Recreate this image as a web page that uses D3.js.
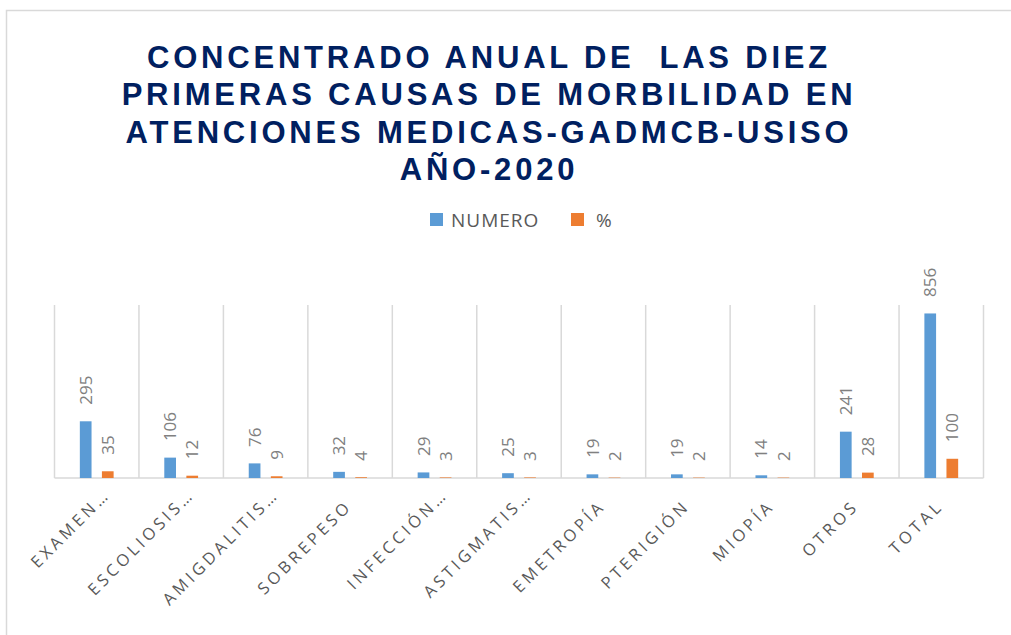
<!DOCTYPE html>
<html>
<head>
<meta charset="utf-8">
<script src="https://cdn.jsdelivr.net/npm/d3@7"></script>
<style>
  body { margin: 0; background: #fff; }
  svg { display: block; }
</style>
</head>
<body>
<div id="chart"></div>
<script>
// --- Data ---
const categories = ["EXAMEN…", "ESCOLIOSIS…", "AMIGDALITIS…", "SOBREPESO", "INFECCIÓN…",
  "ASTIGMATIS…", "EMETROPÍA", "PTERIGIÓN", "MIOPÍA", "OTROS", "TOTAL"];
const series = ["NUMERO", "%"];
const numero = [295, 106, 76, 32, 29, 25, 19, 19, 14, 241, 856];
const porcentaje = [35, 12, 9, 4, 3, 3, 2, 2, 2, 28, 100];
const titleLines = [
  "CONCENTRADO ANUAL DE  LAS DIEZ",
  "PRIMERAS CAUSAS DE MORBILIDAD EN",
  "ATENCIONES MEDICAS-GADMCB-USISO",
  "AÑO-2020"
];

// --- Configuration ---
const width = 1011, height = 635;
const colors = { "NUMERO": "#5b9bd5", "%": "#ed7d31" };
const plot = { left: 54.5, right: 983.5, top: 305, bottom: 478 };

const svg = d3.select("#chart").append("svg")
  .attr("width", width)
  .attr("height", height);

// outer chart border (runs off the right and bottom edge)
svg.append("rect")
  .attr("x", 6.5).attr("y", 10.5)
  .attr("width", 1100).attr("height", 700)
  .attr("fill", "#fff")
  .attr("stroke", "#d9d9d9").attr("stroke-width", 1.5);

// --- Title ---
svg.append("g").selectAll("text")
  .data(titleLines)
  .join("text")
  .attr("x", 489)
  .attr("y", (d, i) => 68 + i * 37.3)
  .attr("text-anchor", "middle")
  .attr("font-family", "'Liberation Sans', Arial, sans-serif")
  .attr("font-weight", "bold")
  .attr("font-size", "31px")
  .attr("letter-spacing", "3.8px")
  .attr("fill", "#002060")
  .style("white-space", "pre")
  .text(d => d);

// --- Legend ---
const legend = svg.append("g").attr("transform", "translate(430, 213)");
const legendX = [0, 141];
series.forEach((s, i) => {
  legend.append("rect")
    .attr("x", legendX[i]).attr("y", 0)
    .attr("width", 13).attr("height", 13)
    .attr("fill", colors[s]);
  legend.append("text")
    .attr("x", legendX[i] + (i === 0 ? 21 : 25)).attr("y", 13.5)
    .attr("font-family", "'Open Sans', sans-serif")
    .attr("font-size", "19px")
    .attr("letter-spacing", "1px")
    .attr("fill", "#595959")
    .text(s);
});

// --- Scales ---
const x0 = d3.scaleBand()
  .domain(categories)
  .range([plot.left, plot.right])
  .padding(0);

const x1 = d3.scaleBand()
  .domain(series)
  .range([x0.bandwidth() * 0.30, x0.bandwidth() * 0.70])
  .paddingInner(0.47);

const y = d3.scaleLinear()
  .domain([0, 900])
  .range([plot.bottom, plot.top]);

// --- Gridlines (category separators) ---
const bounds = categories.map(c => x0(c)).concat([plot.right]);
svg.append("g").selectAll("line")
  .data(bounds)
  .join("line")
  .attr("x1", d => d).attr("x2", d => d)
  .attr("y1", y(900)).attr("y2", y(0))
  .attr("stroke", "#d9d9d9").attr("stroke-width", 1.5);

// baseline
svg.append("line")
  .attr("x1", plot.left).attr("x2", plot.right)
  .attr("y1", y(0)).attr("y2", y(0))
  .attr("stroke", "#d9d9d9").attr("stroke-width", 1.5);

// --- Bars ---
const rows = categories.map((c, i) => ({ cat: c, values: [
  { key: "NUMERO", value: numero[i] },
  { key: "%", value: porcentaje[i] }
] }));

const groups = svg.append("g").selectAll("g")
  .data(rows)
  .join("g")
  .attr("transform", d => `translate(${x0(d.cat)},0)`);

groups.selectAll("rect")
  .data(d => d.values)
  .join("rect")
  .attr("x", d => x1(d.key))
  .attr("width", x1.bandwidth())
  .attr("y", d => y(d.value))
  .attr("height", d => y(0) - y(d.value))
  .attr("fill", d => colors[d.key]);

// value labels, rotated
groups.selectAll("text")
  .data(d => d.values)
  .join("text")
  .attr("transform", d => `translate(${x1(d.key) + x1.bandwidth() / 2},${y(d.value) - 16.5}) rotate(-90)`)
  .attr("dy", "0.36em")
  .attr("font-family", "'Open Sans', sans-serif")
  .attr("font-size", "17px")
  .attr("fill", "#808080")
  .text(d => d.value);

// --- Category axis labels ---
svg.append("g").selectAll("text")
  .data(categories)
  .join("text")
  .attr("transform", d => {
    const cx = x0(d) + x0.bandwidth() / 2;
    return `translate(${cx + 3},${507}) rotate(-45)`;
  })
  .attr("dx", d => d.endsWith("…") ? 16 : 0)
  .attr("text-anchor", "end")
  .attr("font-family", "'Open Sans', sans-serif")
  .attr("font-size", "16.5px")
  .attr("letter-spacing", "3.6px")
  .attr("fill", "#595959")
  .text(d => d);
</script>
</body>
</html>
